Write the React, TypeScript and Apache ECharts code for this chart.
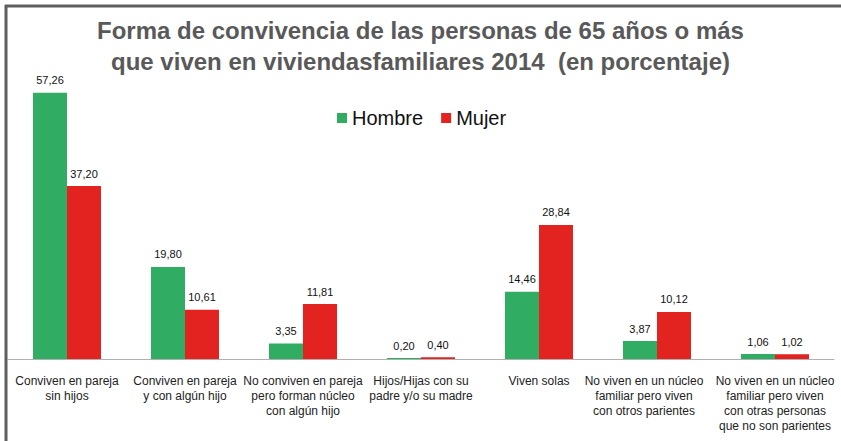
import React, { useEffect, useRef } from "react";
import * as echarts from "echarts";

const categories = [
  "Conviven en pareja\nsin hijos",
  "Conviven en pareja\ny con algún hijo",
  "No conviven en pareja\npero forman núcleo\ncon algún hijo",
  "Hijos/Hijas con su\npadre y/o su madre",
  "Viven solas",
  "No viven en un núcleo\nfamiliar pero viven\ncon otros parientes",
  "No viven en un núcleo\nfamiliar pero viven\ncon otras personas\nque no son parientes",
];
const hombre = [57.26, 19.8, 3.35, 0.2, 14.46, 3.87, 1.06];
const mujer = [37.2, 10.61, 11.81, 0.4, 28.84, 10.12, 1.02];
const seriesNames = ["Hombre", "Mujer"];
const titleLines = [
  "Forma de convivencia de las personas de 65 años o más",
  "que viven en viviendasfamiliares 2014  (en porcentaje)",
];

const fmt = (v: number) => v.toFixed(2).replace(".", ",");

export default function App() {
  const ref = useRef<HTMLDivElement>(null);
  useEffect(() => {
    document.body.style.margin = "0";
    const chart = echarts.init(ref.current!, null, { renderer: "svg" });
    const font = "'Liberation Sans', Arial, Helvetica, sans-serif";
    const labelPad = [0, 0, 0, 0, 0, 26, 0];
    chart.setOption({
      animation: false,
      backgroundColor: "#ffffff",
      textStyle: { fontFamily: font },
      title: {
        text: titleLines.join("\n"),
        left: "center",
        top: 10,
        textStyle: {
          fontFamily: font,
          fontSize: 24,
          fontWeight: "bold",
          color: "#595959",
          lineHeight: 31,
        },
      },
      legend: {
        data: seriesNames,
        top: 103,
        left: 332,
        itemWidth: 10,
        itemHeight: 10,
        itemGap: 18,
        icon: "rect",
        textStyle: { fontFamily: font, fontSize: 20, color: "#111" },
      },
      grid: { left: 8, right: 7, top: 80, bottom: 82, containLabel: false },
      xAxis: {
        type: "category",
        data: categories.map((c, i) => ({
          value: c,
          textStyle: { padding: [0, labelPad[i], 0, 0] },
        })),
        axisLine: { show: true, lineStyle: { color: "#b0b0b0", width: 1 } },
        axisTick: { show: false },
        axisLabel: {
          interval: 0,
          fontFamily: font,
          fontSize: 12,
          lineHeight: 15,
          color: "#222",
          margin: 14,
          verticalAlign: "top",
        },
      },
      yAxis: {
        type: "value",
        min: 0,
        max: 60,
        show: false,
        splitLine: { show: false },
      },
      series: [
        {
          name: seriesNames[0],
          type: "bar",
          data: hombre,
          barWidth: 34,
          barGap: "0%",
          itemStyle: { color: "#31ad63" },
          label: {
            show: true,
            position: "top",
            distance: 7,
            fontFamily: font,
            fontSize: 11,
            color: "#111",
            formatter: (p: any) => fmt(p.value),
          },
        },
        {
          name: seriesNames[1],
          type: "bar",
          data: mujer,
          barWidth: 34,
          barGap: "0%",
          itemStyle: { color: "#e2231f" },
          label: {
            show: true,
            position: "top",
            distance: 7,
            fontFamily: font,
            fontSize: 11,
            color: "#111",
            formatter: (p: any) => fmt(p.value),
          },
        },
      ],
      graphic: [
        {
          type: "line",
          shape: { x1: 5, y1: 6, x2: 841, y2: 6 },
          style: { stroke: "#5f5f5f", lineWidth: 3 },
          z: 100,
        },
        {
          type: "line",
          shape: { x1: 6, y1: 5, x2: 6, y2: 441 },
          style: { stroke: "#5f5f5f", lineWidth: 3 },
          z: 100,
        },
      ],
    });
    return () => chart.dispose();
  }, []);
  return <div ref={ref} style={{ width: 841, height: 441 }} />;
}
